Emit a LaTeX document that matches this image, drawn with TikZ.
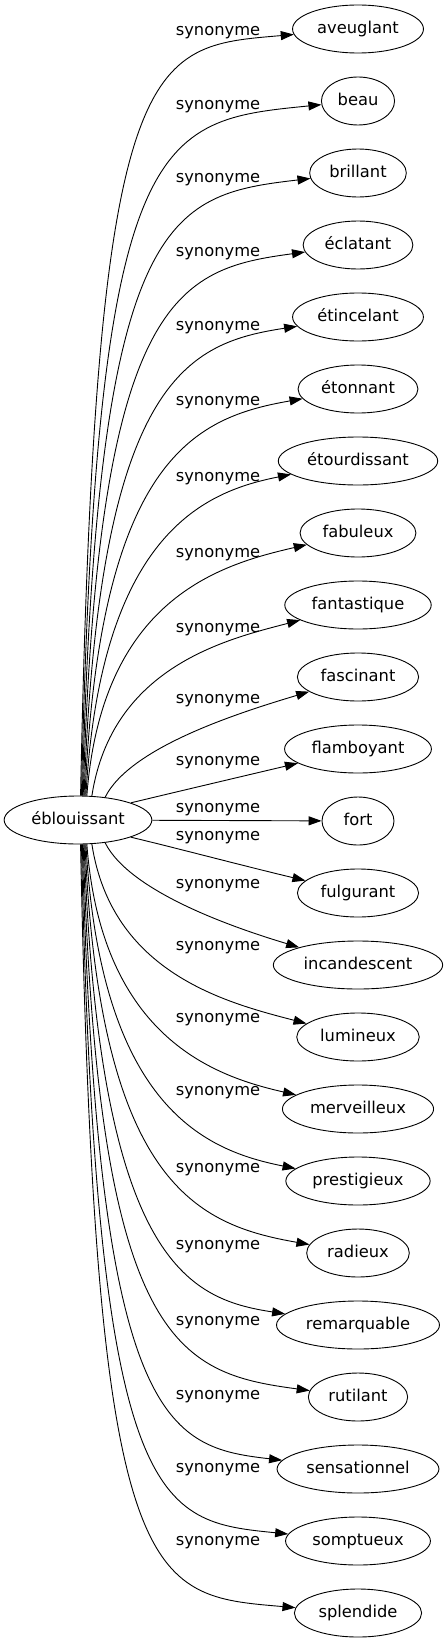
\documentclass[tikz,border=0pt]{standalone}
\usepackage{fontspec}
\setmainfont{DejaVu Sans}
\usetikzlibrary{shapes.geometric,arrows.meta,calc}

\tikzset{
  word/.style={draw, ellipse, line width=0.9pt, minimum width=72pt, minimum height=48pt,
    inner xsep=5.5pt, inner ysep=0pt, text height=12pt, text depth=3.5pt,
    font=\fontsize{16.3}{19}\selectfont},
  rel/.style={-{Triangle[length=13pt,width=9pt]}, line width=0.9pt},
  lab/.style={inner sep=0pt, font=\fontsize{16.3}{19}\selectfont}
}

\begin{document}
\begin{tikzpicture}[x=1pt, y=-1pt]
  \useasboundingbox (0,0) rectangle (445,1643);
  \node[word] (src) at (78,820) {éblouissant};
  \foreach \w/\k/\ly in {aveuglant/0/33, beau/1/107, brillant/2/180,
      éclatant/3/254, étincelant/4/328, étonnant/5/403, étourdissant/6/479,
      fabuleux/7/555, fantastique/8/630, fascinant/9/701, flamboyant/10/763,
      fort/11/810, fulgurant/12/838, incandescent/13/886, lumineux/14/948,
      merveilleux/15/1020, prestigieux/16/1093, radieux/17/1170,
      remarquable/18/1247, rutilant/19/1323, sensationnel/20/1397,
      somptueux/21/1470, splendide/22/1543}{
    \node[word] (syn\k) at (358,{29+72*\k}) {\w};
    \node[lab] (lab\k) at (218,\ly) {synonyme};
    \pgfmathtruncatemacro\j{abs(\k-11)}
    \ifnum\j=0
      \draw[rel] (src) -- (syn\k);
    \else
      % curve data, j = distance from the middle row
      \pgfmathtruncatemacro\s{sign(\k-11)}
      \pgfmathtruncatemacro\a{-\s*{18,40,60,70,72,74,76,78,80,82,84}[\j-1]}
      \pgfmathsetmacro\ax{{50,25,20,15,15,15,15,15,15,15,15}[\j-1]}
      \pgfmathsetmacro\ay{\s*{12,50,130,196,266,341,418,501,583,670,752}[\j-1]}
      \pgfmathsetmacro\bx{{110,120,130,140,150,160,170,180,190,200,210}[\j-1]}
      \pgfmathsetmacro\by{-\s*{26,36,34,32,30,28,26,24,22,20,18}[\j-1]}
      \draw[rel] (src.\a) .. controls +(\ax,\ay) and +(-\bx,\by) .. (syn\k);
    \fi
  }
\end{tikzpicture}
\end{document}
